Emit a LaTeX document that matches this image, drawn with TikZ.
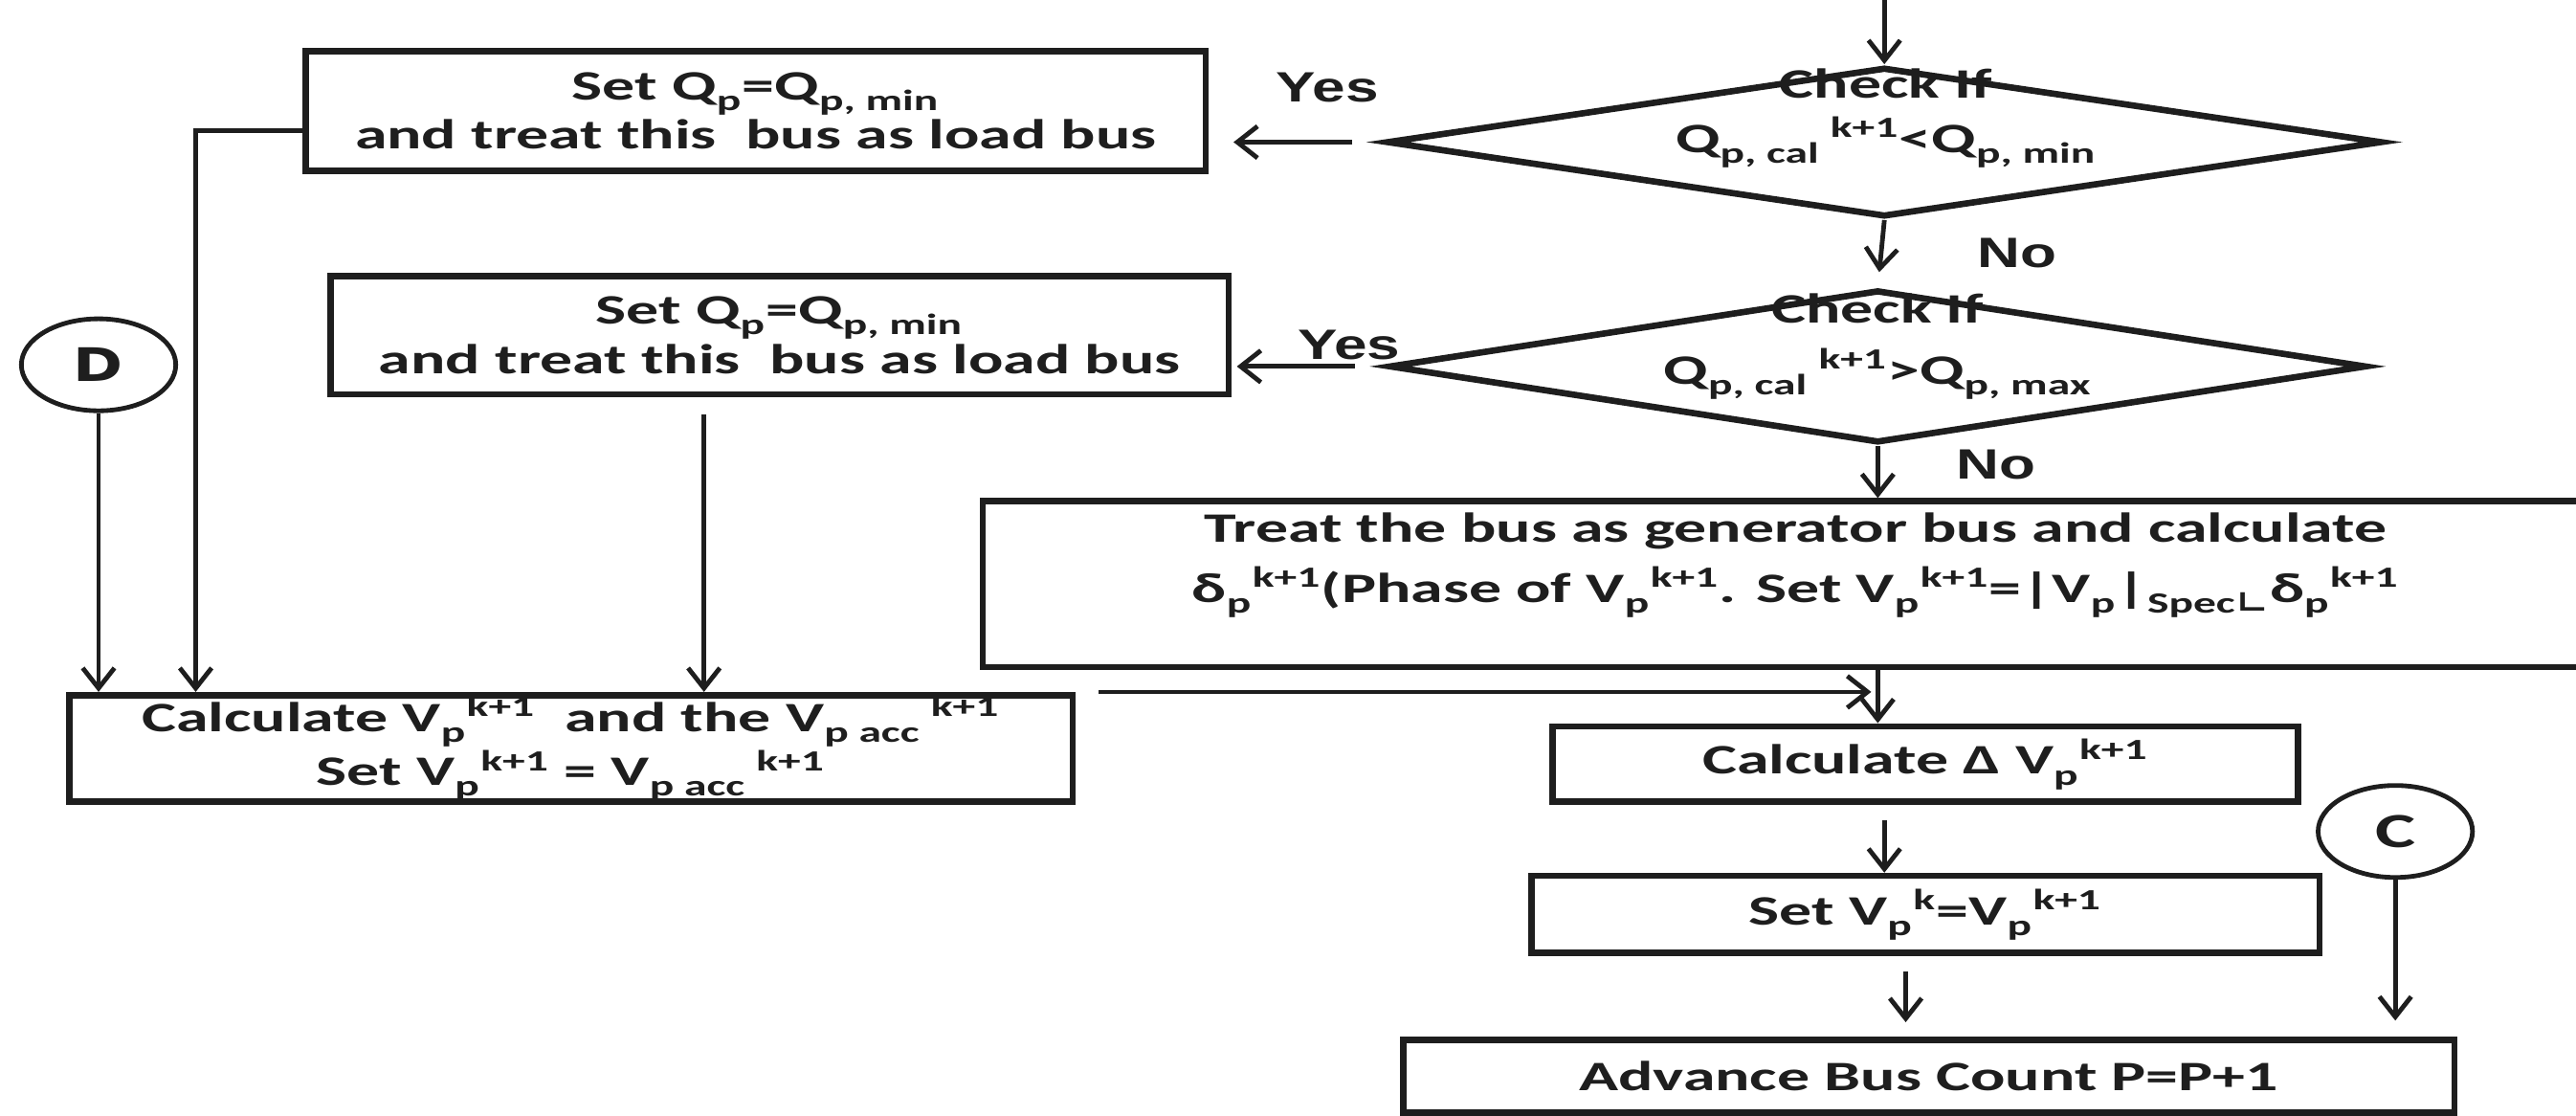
\documentclass[tikz,border=0pt]{standalone}
\usepackage{fontspec}
\usetikzlibrary{shapes.geometric,arrows.meta,calc}
\newfontfamily\carl[FakeStretch=1.55]{Carlito}
\newfontfamily\arl[FakeStretch=1.4]{Liberation Sans}
\newfontfamily\dvs[FakeStretch=1.3]{DejaVu Sans}
\newcommand\sbb[1]{\textsubscript{\raisebox{-0.15em}{#1}}}
\newcommand\spp[1]{\textsuperscript{#1}}
\definecolor{ink}{HTML}{1E1E1E}
\begin{document}
\begin{tikzpicture}[x=0.02cm,y=-0.02cm,
  every node/.style={font=\carl\bfseries\fontsize{14.5pt}{17pt}\selectfont, text=ink},
  box/.style={draw=ink, line width=2.2pt, rectangle, inner sep=0pt, align=center},
  dia/.style={draw=ink, line width=2.2pt, diamond, inner sep=0pt},
  conn/.style={draw=ink, line width=1.6pt, ellipse, inner sep=0pt, minimum width=1.88cm, minimum height=1.12cm},
  arr/.style={draw=ink, line width=1.6pt, -{Straight Barb[length=7pt,width=11pt]}},
  lbl/.style={font=\arl\bfseries\fontsize{14.7pt}{17pt}\selectfont}]
\useasboundingbox (0,0) rectangle (1568,679);
\clip (0,0) rectangle (1568,679);
\fill[white] (0,0) rectangle (1568,679);

% boxes
\node[box, minimum width=10.96cm, minimum height=1.46cm] (b1) at (460,67.5)
  {Set Q\sbb{p}=Q\sbb{p, min}\\and treat this~ bus as load bus};
\node[box, minimum width=10.94cm, minimum height=1.44cm] (b2) at (474.5,204)
  {Set Q\sbb{p}=Q\sbb{p, min}\\and treat this~ bus as load bus};
\node[dia, minimum width=12.12cm, minimum height=1.82cm] (d1) at (1147,86.5) {};
\node[align=center] (d1t) at (1148,72) {Check If\\[2pt]Q\sbb{p, cal}\spp{ k+1}<Q\sbb{p, min}};
\node[dia, minimum width=11.9cm, minimum height=1.86cm] (d2) at (1143,223) {};
\node[align=center] (d2t) at (1143,211) {Check If\\[4pt]Q\sbb{p, cal}\spp{ k+1}>Q\sbb{p, max}};
\node[box, minimum width=19.84cm, minimum height=2.02cm] (gen) at (1094,355.5) {};
\node[align=center] (gent) at (1093,344) {Treat the bus as generator bus and calculate\\[4pt]%
  δ\sbb{p}\spp{k+1}(Phase of V\sbb{p}\spp{k+1}. Set V\sbb{p}\spp{k+1}=|V\sbb{p}|\sbb{Spec}{\dvs\sbb{∟}}δ\sbb{p}\spp{k+1}};
\node[box, minimum width=12.22cm, minimum height=1.3cm] (cl) at (347.5,455.5)
  {Calculate V\sbb{p}\spp{k+1}~ and the V\sbb{p acc}\spp{ k+1}\\Set V\sbb{p}\spp{k+1} = V\sbb{p acc}\spp{ k+1}};
\node[box, minimum width=9.08cm, minimum height=0.92cm] (cd) at (1172,465) {Calculate Δ V\sbb{p}\spp{k+1}};
\node[box, minimum width=9.6cm, minimum height=0.94cm] (sv) at (1172,556.5) {Set V\sbb{p}\spp{k}=V\sbb{p}\spp{k+1}};
\node[box, minimum width=12.8cm, minimum height=0.88cm] (adv) at (1174,655) {Advance Bus Count P=P+1};
\node[conn, font=\dvs\bfseries\fontsize{16pt}{18pt}\selectfont] (D) at (60,222) {D};
\node[conn, font=\carl\bfseries\fontsize{17pt}{19pt}\selectfont] (C) at (1458,506) {C};

% labels
\node[lbl] (y1) at (808,53) {Yes};
\node[lbl] (y2) at (821,210) {Yes};
\node[lbl] (n1) at (1228,154) {No};
\node[lbl] (n2) at (1215,282.5) {No};

% connectors
\coordinate (top) at (1147,0);
\draw[arr] (top) -- (d1.north);
\draw[arr, shorten <=0.38cm, shorten >=0.3cm] (d1.west) -- (d1.west -| b1.east);
\draw[arr, shorten <=0.38cm, shorten >=0.06cm] (d2.west) -- (d2.west -| b2.east);
\draw[arr, shorten >=0.18cm] (d1.south) -- (d2.north);
\draw[arr] (d2.south) -- (d2.south |- gen.north);
\draw[arr] (d2.south |- gen.south) -- (d2.south |- cd.north);
\coordinate (hs) at ($(cl.north east)+(14,0)$);
\draw[arr, shorten >=0.08cm] (hs) -- (hs -| d2.south);
\draw[arr, shorten <=0.18cm] (cd.south -| top) -- (sv.north -| top);
\coordinate (sa) at ($(sv.south)+(-12,0)$);
\draw[arr, shorten <=0.18cm, shorten >=0.18cm] (sa) -- (sa |- adv.north);
\draw[arr, shorten >=0.2cm] (C.south) -- (C.south |- adv.north);
\draw[arr] (D.south) -- (D.south |- cl.north);
\coordinate (j0) at ($(b1.west)+(0,12)$);
\coordinate (j1) at ($(b1.west)+(-65,12)$);
\draw[arr] (j0) -- (j1) -- (j1 |- cl.north);
\coordinate (b2s) at ($(b2.south)+(-46,10)$);
\draw[arr] (b2s) -- (b2s |- cl.north);
\end{tikzpicture}
\end{document}
